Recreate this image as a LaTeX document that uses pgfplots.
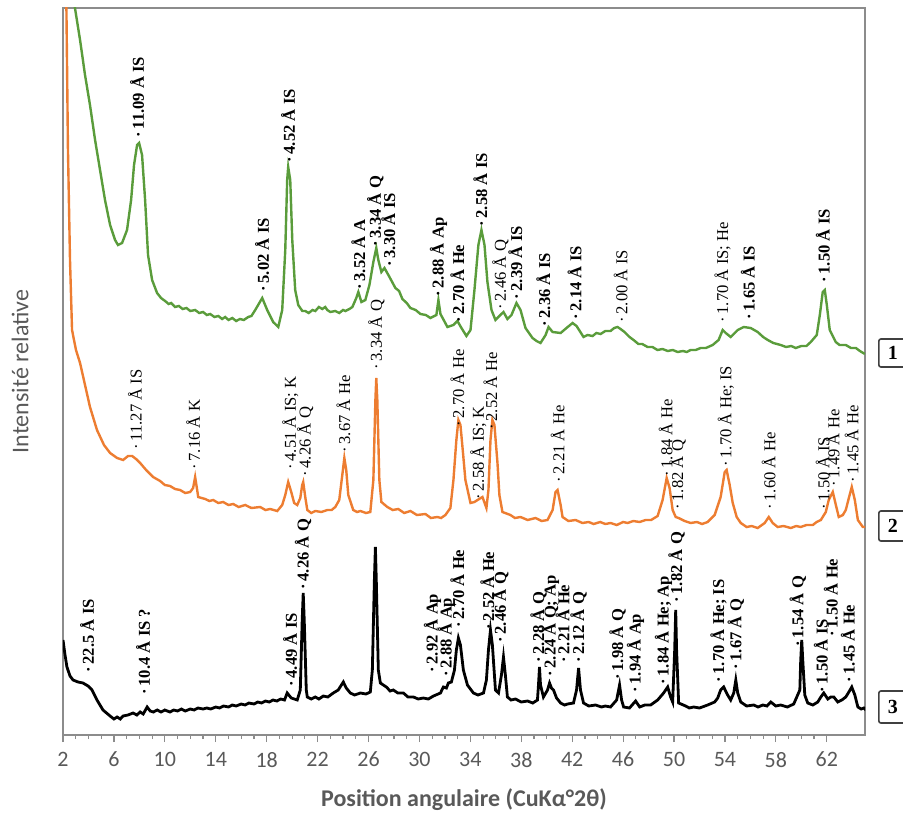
\documentclass[border=0pt]{standalone}
\usepackage{pgfplots}
\pgfplotsset{compat=1.18}
\usepackage{fontspec}
\setmainfont{Carlito}
\newfontfamily\annotf{Liberation Serif}
\definecolor{cgreen}{HTML}{5A9C3B}
\definecolor{corange}{HTML}{ED7D31}
\definecolor{axgrey}{HTML}{8C8C8C}
\definecolor{txtgrey}{HTML}{595959}
\newcommand{\lab}[2]{\node[rotate=90,anchor=west,inner sep=0pt,font=\annotf\fontsize{8.3}{9}\selectfont\bfseries] at (axis cs:#1) {·\,#2};}
\newcommand{\labr}[2]{\node[rotate=90,anchor=west,inner sep=0pt,font=\annotf\fontsize{8.3}{9}\selectfont] at (axis cs:#1) {·\,#2};}
\begin{document}
\begin{tikzpicture}
\begin{axis}[name=ax, width=401pt, height=363.5pt, scale only axis,
  xmin=2, xmax=65, ymin=0, ymax=727,
  xtick={2,6,...,62}, minor x tick num=3, ytick=\empty,
  xtick pos=left, tick align=outside,
  major tick length=3.5pt, minor tick length=2pt,
  axis line style={axgrey, line width=1pt},
  tick style={axgrey, line width=0.6pt},
  tick label style={font=\fontsize{11}{13}\selectfont, text=txtgrey},
  xticklabel style={yshift=-1.5pt},
  /pgf/number format/assume math mode=true,
  xlabel={Position angulaire (CuKα°2θ)},
  xlabel style={font=\fontsize{12}{14}\selectfont\bfseries, text=txtgrey, at={(axis description cs:0.5,0)}, anchor=center, yshift=-32.5pt},
  ylabel={Intensité relative},
  ylabel style={font=\fontsize{12}{14}\selectfont, text=txtgrey, at={(axis description cs:-0.0536,0.5)}, anchor=center},
  clip mode=individual,
]
% Sample 1 (green)
\addplot[cgreen, line width=1.2pt] coordinates {
(2.63,760) (2.94,727) (3.34,695) (3.73,660) (4.12,630) (4.52,595) (4.91,565) (5.30,535) (5.70,510) (6.09,495) (6.32,490) (6.64,492) (7.03,505) (7.35,535) (7.58,570) (7.82,590) (7.98,592) (8.21,580) (8.45,535) (8.68,480) (9.00,455) (9.39,442) (9.70,437) (10.02,434) (10.30,431) (10.50,432) (10.80,428) (11.10,429) (11.40,426) (11.70,427) (12.00,424) (12.38,425) (12.70,422) (13.00,423) (13.30,420) (13.56,421) (13.90,418) (14.20,419) (14.50,416) (14.74,418) (15.00,415) (15.30,417) (15.60,414) (15.90,416) (16.20,415) (16.55,418) (16.80,419) (17.10,425) (17.65,437) (18.04,425) (18.51,413) (18.91,408) (19.22,425) (19.46,485) (19.61,555) (19.69,568) (19.85,555) (20.01,495) (20.24,445) (20.48,430) (20.80,424) (21.03,424) (21.30,422) (21.60,425) (21.82,424) (22.10,428) (22.37,426) (22.60,428) (22.76,425) (23.00,423) (23.39,424) (23.70,422) (24.00,425) (24.18,424) (24.50,426) (24.73,428) (25.04,437) (25.20,443) (25.44,433) (25.75,435) (26.07,450) (26.38,473) (26.61,487) (26.77,475) (27.01,463) (27.25,467) (27.56,460) (28.11,447) (28.40,444) (28.66,436) (29.00,432) (29.29,427) (29.70,425) (30.08,421) (30.50,420) (30.86,417) (31.33,420) (31.49,435) (31.65,421) (32.20,408) (32.67,410) (32.98,414) (33.30,407) (33.69,399) (34.01,405) (34.32,445) (34.63,490) (34.87,505) (35.11,490) (35.34,453) (35.66,425) (35.97,415) (36.36,420) (36.60,423) (36.91,416) (37.23,420) (37.62,432) (37.94,425) (38.33,407) (38.88,397) (39.20,394) (39.51,392) (39.91,400) (40.14,408) (40.46,403) (41.09,402) (41.55,407) (42.03,412) (42.34,409) (42.89,398) (43.20,400) (43.60,399) (43.90,402) (44.23,401) (44.60,404) (45.01,404) (45.30,407) (45.56,408) (45.80,406) (46.11,403) (46.50,398) (46.82,395) (47.20,391) (47.50,391) (47.92,388) (48.30,388) (48.70,385) (49.10,386) (49.50,384) (49.90,385) (50.28,383) (50.70,384) (51.00,383) (51.30,385) (51.70,385) (52.09,387) (52.50,387) (53.03,390) (53.50,395) (53.82,405) (54.06,402) (54.45,398) (55.00,405) (55.47,408) (56.02,407) (56.57,403) (57.00,398) (57.36,395) (57.80,392) (58.38,390) (58.80,388) (59.20,389) (59.56,387) (60.00,389) (60.40,389) (60.74,393) (61.21,400) (61.45,420) (61.68,443) (61.84,445) (62.00,430) (62.23,405) (62.70,393) (63.00,390) (63.49,390) (63.90,387) (64.28,387) (64.60,384) (64.99,381)
};
% Sample 2 (orange)
\addplot[corange, line width=1.2pt] coordinates {
(2.24,760) (2.39,585) (2.55,475) (2.71,405) (3.02,385) (3.34,372) (3.73,350) (4.12,328) (4.67,305) (5.22,290) (5.70,282) (6.25,277) (6.72,275) (7.11,279) (7.43,279) (7.74,276) (8.06,272) (8.53,265) (9.08,258) (9.63,254) (10.00,250) (10.41,249) (10.80,246) (11.20,245) (11.60,242) (11.99,243) (12.22,247) (12.38,258) (12.54,245) (12.62,238) (13.17,236) (13.50,234) (13.80,235) (14.20,232) (14.58,233) (15.00,230) (15.37,231) (15.80,228) (16.31,230) (16.80,227) (17.49,228) (17.90,225) (18.28,226) (18.83,224) (19.22,230) (19.46,240) (19.69,253) (19.93,243) (20.16,232) (20.40,230) (20.64,237) (20.79,250) (20.87,253) (21.03,238) (21.19,225) (21.50,222) (21.82,224) (22.30,223) (22.76,225) (23.10,225) (23.39,228) (23.70,235) (23.94,260) (24.10,277) (24.25,265) (24.41,240) (24.80,225) (25.10,223) (25.36,224) (25.80,222) (26.14,223) (26.38,255) (26.54,335) (26.61,357) (26.69,335) (26.85,255) (27.01,233) (27.48,228) (27.90,225) (28.34,226) (28.80,222) (29.29,224) (29.80,220) (30.47,221) (30.90,217) (31.41,218) (31.70,217) (32.04,220) (32.43,227) (32.67,255) (32.90,295) (33.06,315) (33.22,310) (33.38,288) (33.61,255) (34.01,232) (34.32,233) (34.56,235) (34.95,238) (35.26,227) (35.42,245) (35.58,295) (35.73,315) (35.89,310) (36.13,272) (36.28,240) (36.52,223) (37.15,220) (37.50,217) (37.94,218) (38.50,215) (39.12,217) (39.60,214) (40.06,215) (40.46,225) (40.69,243) (40.85,245) (41.09,230) (41.24,218) (41.70,214) (42.27,215) (42.80,212) (43.30,213) (43.68,211) (44.20,213) (44.60,211) (45.01,212) (45.50,210) (46.00,213) (46.35,212) (46.80,214) (47.30,213) (47.77,215) (48.20,215) (48.71,219) (49.10,235) (49.42,257) (49.65,247) (49.89,225) (50.13,218) (50.36,217) (50.83,214) (51.30,212) (51.80,213) (52.20,211) (52.64,213) (53.19,220) (53.66,238) (53.98,263) (54.13,265) (54.37,250) (54.61,232) (54.92,218) (55.24,212) (55.70,208) (56.10,209) (56.57,207) (57.12,212) (57.44,218) (57.75,212) (58.14,208) (58.60,209) (59.17,207) (59.60,209) (59.95,208) (60.40,210) (60.90,210) (61.20,213) (61.53,215) (61.92,223) (62.15,235) (62.47,243) (62.71,230) (62.94,218) (63.26,220) (63.49,225) (63.73,237) (63.96,248) (64.20,235) (64.44,215) (64.83,208) (65.07,208)
};
% Sample 3 (black)
\addplot[black, line width=1.4pt] coordinates {
(2.00,95) (2.16,80) (2.31,68) (2.55,59) (2.79,55) (3.18,53) (3.57,52) (3.97,49) (4.28,45) (4.67,35) (5.14,25) (5.70,19) (6.00,16) (6.25,18) (6.50,16) (6.72,19) (7.11,20) (7.50,22) (7.80,20) (8.06,23) (8.30,21) (8.61,28) (8.85,24) (9.10,23) (9.40,25) (9.70,23) (10.00,25) (10.40,23) (10.70,25) (11.00,24) (11.30,26) (11.60,24) (12.00,26) (12.30,25) (12.60,27) (13.00,26) (13.30,27) (13.60,26) (14.00,28) (14.30,27) (14.60,29) (15.00,28) (15.30,30) (15.60,29) (16.00,31) (16.30,30) (16.60,32) (17.00,31) (17.30,33) (17.60,32) (17.90,34) (18.20,33) (18.50,35) (18.80,34) (19.10,36) (19.40,35) (19.61,42) (19.93,37) (20.40,35) (20.64,45) (20.79,115) (20.87,142) (20.95,115) (21.11,45) (21.19,38) (21.50,36) (21.82,38) (22.10,36) (22.45,39) (22.80,38) (23.23,42) (23.62,45) (24.02,53) (24.25,47) (24.57,42) (24.90,40) (25.36,42) (25.80,41) (26.14,43) (26.30,65) (26.46,155) (26.54,188) (26.61,155) (26.77,65) (26.93,52) (27.40,48) (27.70,44) (27.95,45) (28.30,42) (28.74,42) (29.10,38) (29.53,38) (29.90,36) (30.31,37) (30.70,36) (31.10,39) (31.65,42) (31.88,48) (32.12,47) (32.27,52) (32.51,53) (32.75,65) (32.90,85) (33.06,97) (33.22,90) (33.45,65) (33.77,50) (34.24,42) (34.60,40) (35.03,42) (35.26,55) (35.42,85) (35.58,105) (35.73,90) (35.97,45) (36.21,42) (36.44,60) (36.60,78) (36.75,60) (36.91,38) (37.20,35) (37.54,36) (38.00,33) (38.49,34) (38.90,32) (39.27,35) (39.35,50) (39.43,68) (39.51,50) (39.74,38) (40.06,45) (40.22,52) (40.37,47) (40.53,45) (40.77,37) (41.09,32) (41.40,30) (41.64,31) (42.10,32) (42.34,45) (42.50,67) (42.65,45) (42.89,32) (43.30,29) (43.83,30) (44.30,28) (44.60,29) (45.01,28) (45.49,35) (45.72,50) (45.88,35) (46.04,28) (46.50,27) (46.98,34) (47.30,28) (47.70,30) (48.16,30) (48.71,35) (49.18,42) (49.50,48) (49.73,38) (49.89,33) (50.05,85) (50.13,125) (50.20,85) (50.36,32) (50.91,29) (51.20,27) (51.54,28) (52.00,27) (52.64,30) (53.19,33) (53.43,37) (53.66,45) (53.90,48) (54.21,40) (54.45,35) (54.69,42) (54.85,55) (55.00,42) (55.24,33) (55.70,29) (56.26,30) (56.60,28) (56.97,30) (57.30,29) (57.60,33) (57.99,29) (58.38,30) (58.90,28) (59.40,31) (59.88,45) (59.95,75) (60.03,95) (60.11,75) (60.27,40) (60.50,32) (60.90,30) (61.29,33) (61.53,38) (61.76,42) (62.08,36) (62.31,38) (62.55,38) (62.86,33) (63.18,35) (63.49,38) (63.73,43) (63.96,48) (64.20,40) (64.44,28) (64.70,26) (64.91,27) (65.07,25)
};
% green labels
\lab{7.82,597}{11.09 Å IS}
\lab{17.65,443}{5.02 Å IS}
\lab{19.69,572}{4.52 Å IS}
\lab{25.20,445}{3.52 Å A}
\lab{26.54,488}{3.34 Å Q}
\lab{27.56,468}{3.30 Å IS}
\lab{31.49,438}{2.88 Å Ap}
\lab{32.98,412}{2.70 Å He}
\lab{34.79,508}{2.58 Å IS}
\labr{36.36,425}{2.46 Å Q}
\lab{37.54,435}{2.39 Å IS}
\lab{39.74,408}{2.36 Å IS}
\lab{42.18,415}{2.14 Å IS}
\labr{45.80,412}{2.00 Å IS}
\labr{53.82,412}{1.70 Å IS; He}
\lab{55.79,415}{1.65 Å IS}
\lab{61.68,452}{1.50 Å IS}
% orange labels
\labr{7.66,285}{11.27 Å IS}
\labr{12.22,265}{7.16 Å K}
\labr{19.85,265}{4.51 Å IS; K}
\labr{21.03,258}{4.26 Å Q}
\labr{24.02,282}{3.67 Å He}
\labr{26.61,365}{3.34 Å Q}
\labr{32.98,308}{2.70 Å He}
\labr{34.63,235}{2.58 Å IS; K}
\labr{35.58,305}{2.52 Å He}
\labr{40.85,252}{2.21 Å He}
\labr{49.34,258}{1.84 Å He}
\labr{50.28,225}{1.82 Å Q}
\labr{54.06,268}{1.70 Å He; IS}
\labr{57.44,225}{1.60 Å He}
\labr{61.68,225}{1.50 Å IS}
\labr{62.47,248}{1.49 Å He}
\labr{63.96,252}{1.45 Å He}
% black labels
\lab{3.89,62}{22.5 Å IS}
\lab{8.29,40}{10.4 Å IS ?}
\lab{19.85,48}{4.49 Å IS}
\lab{20.87,145}{4.26 Å Q}
\lab{31.02,62}{2.92 Å Ap}
\lab{32.12,58}{2.88 Å Ap}
\lab{32.98,107}{2.70 Å He}
\lab{35.34,105}{2.52 Å He}
\lab{36.36,92}{2.46 Å Q}
\lab{39.35,72}{2.28 Å Q}
\lab{40.30,58}{2.24 Å Q; Ap}
\lab{41.24,72}{2.21 Å He}
\lab{42.50,72}{2.12 Å Q}
\lab{45.56,55}{1.98 Å Q}
\lab{46.98,42}{1.94 Å Ap}
\lab{49.18,50}{1.84 Å He; Ap}
\lab{50.20,132}{1.82 Å Q}
\lab{53.50,52}{1.70 Å He; IS}
\lab{54.85,65}{1.67 Å Q}
\lab{59.72,88}{1.54 Å Q}
\lab{61.53,42}{1.50 Å IS}
\lab{62.31,98}{1.50 Å He}
\lab{63.65,52}{1.45 Å He}
% sample numbers
\node[draw=black!75, line width=0.8pt, rounded corners=1pt, minimum width=14pt, minimum height=14pt, inner sep=0pt, font=\annotf\fontsize{10}{12}\selectfont\bfseries] at (axis cs:67.19,382) {1};
\node[draw=black!75, line width=0.8pt, rounded corners=1pt, minimum width=14pt, minimum height=15pt, inner sep=0pt, font=\annotf\fontsize{10}{12}\selectfont\bfseries] at (axis cs:67.19,209) {2};
\node[draw=black!75, line width=0.8pt, rounded corners=1pt, minimum width=14pt, minimum height=16pt, inner sep=0pt, font=\annotf\fontsize{10}{12}\selectfont\bfseries] at (axis cs:67.19,28) {3};
\end{axis}
\pgfresetboundingbox
\path ([shift={(-31.5pt,-39.5pt)}]ax.south west) rectangle ([shift={(19pt,4pt)}]ax.north east);
\end{tikzpicture}
\end{document}
